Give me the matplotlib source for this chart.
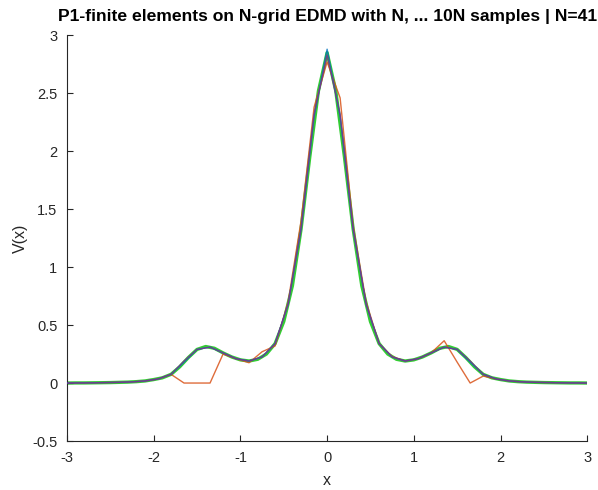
import numpy as np
import matplotlib
matplotlib.use('Agg')
import matplotlib.pyplot as plt

plt.rcParams['font.family'] = ['Liberation Sans', 'DejaVu Sans']
plt.rcParams['axes.unicode_minus'] = False

# --- data ---
# true potential on a fine grid (step 0.1)
x_fine = np.round(np.arange(-3.0, 3.0001, 0.1), 2)
v_true = [0.0, 0.001, 0.001, 0.002, 0.003, 0.004, 0.006, 0.008, 0.012, 0.018,
          0.03, 0.045, 0.075, 0.14, 0.22, 0.29, 0.315, 0.3, 0.26, 0.225,
          0.2, 0.19, 0.205, 0.25, 0.34, 0.53, 0.84, 1.33, 1.95, 2.52,
          2.85,
          2.52, 1.95, 1.33, 0.84, 0.53, 0.34, 0.25, 0.205, 0.19, 0.2,
          0.225, 0.26, 0.3, 0.315, 0.29, 0.22, 0.14, 0.075, 0.045, 0.03,
          0.018, 0.012, 0.008, 0.006, 0.004, 0.003, 0.002, 0.001, 0.001, 0.0]

# P1 reconstructions on the N-grid (N=41)
N = 41
x_grid = np.linspace(-3, 3, N)
v_N = [0.0, 0.0, 0.002, 0.004, 0.006, 0.01, 0.018, 0.035, 0.075, 0.0,
       0.0, 0.0, 0.25, 0.21, 0.175, 0.27, 0.32, 0.70, 1.40, 2.38,
       2.77,
       2.46, 1.36, 0.70, 0.34, 0.23, 0.19, 0.21, 0.26, 0.365, 0.18,
       0.0, 0.06, 0.035, 0.018, 0.01, 0.006, 0.004, 0.002, 0.001, 0.0]
v_3N = [0.0, 0.001, 0.002, 0.004, 0.006, 0.01, 0.018, 0.035, 0.075, 0.19,
        0.29, 0.31, 0.26, 0.21, 0.19, 0.225, 0.34, 0.68, 1.33, 2.32,
        2.83,
        2.32, 1.33, 0.68, 0.34, 0.225, 0.19, 0.21, 0.26, 0.31, 0.29,
        0.19, 0.075, 0.035, 0.018, 0.01, 0.006, 0.004, 0.002, 0.001, 0.0]
v_10N = [0.0, 0.001, 0.002, 0.004, 0.006, 0.01, 0.018, 0.035, 0.075, 0.18,
         0.29, 0.31, 0.26, 0.21, 0.19, 0.225, 0.34, 0.68, 1.33, 2.30,
         2.88,
         2.30, 1.33, 0.68, 0.34, 0.225, 0.19, 0.21, 0.26, 0.31, 0.29,
         0.18, 0.075, 0.035, 0.018, 0.01, 0.006, 0.004, 0.002, 0.001, 0.0]

x_ticks = [-3, -2, -1, 0, 1, 2, 3]
y_ticks = [-0.5, 0, 0.5, 1, 1.5, 2, 2.5, 3]
y_ticklabels = ['-0.5', '0', '0.5', '1', '1.5', '2', '2.5', '3']

# --- plot ---
fig = plt.figure(figsize=(5.98, 4.9), dpi=100)
ax = fig.add_axes([0.112, 0.1, 0.87, 0.828])

ax.plot(x_fine, v_true, color='#33cc33', lw=2.4, zorder=1)
ax.plot(x_grid, v_N, color=(0.85, 0.325, 0.098), lw=1.0, alpha=0.85, zorder=2)
ax.plot(x_grid, v_10N, color=(0.0, 0.447, 0.741), lw=1.0, alpha=0.8, zorder=3)
ax.plot(x_grid, v_3N, color=(0.494, 0.184, 0.556), lw=1.0, alpha=0.8, zorder=4)

ax.set_xlim(-3, 3)
ax.set_ylim(-0.5, 3)
ax.set_xticks(x_ticks)
ax.set_xticklabels([str(t) for t in x_ticks])
ax.set_yticks(y_ticks)
ax.set_yticklabels(y_ticklabels)

gray = '#262626'
for s in ['top', 'right']:
    ax.spines[s].set_visible(False)
for s in ['left', 'bottom']:
    ax.spines[s].set_color(gray)
    ax.spines[s].set_linewidth(0.8)
ax.tick_params(direction='in', length=4, width=0.8, colors=gray,
               labelsize=10.5, labelcolor=gray, pad=7)

ax.set_xlabel('x', fontsize=11.5, color=gray, labelpad=6)
ax.set_ylabel('V(x)', fontsize=11.5, color=gray, labelpad=3)
ax.set_title('P1-finite elements on N-grid EDMD with N, ... 10N samples | N=41',
             fontsize=12.6, fontweight='bold', color='black', pad=10)

fig.savefig('out.png', dpi=100)
